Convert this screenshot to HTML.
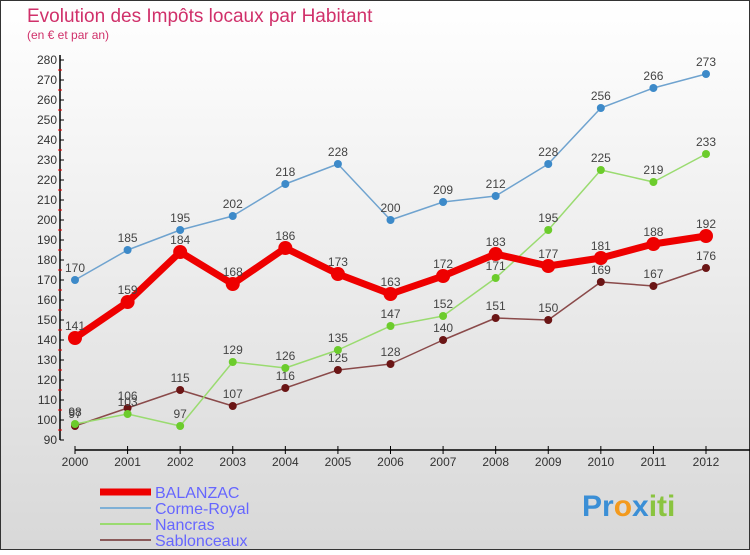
<!DOCTYPE html>
<html><head><meta charset="utf-8"><style>
body{margin:0;width:750px;height:550px;overflow:hidden;font-family:"Liberation Sans",sans-serif}
svg text{font-family:"Liberation Sans",sans-serif}
</style></head><body>
<svg id="chart" width="750" height="550">
<defs><linearGradient id="bg" x1="0" y1="0" x2="0" y2="1"><stop offset="0" stop-color="#ffffff"/><stop offset="1" stop-color="#d8d8d8"/></linearGradient></defs>
<rect x="0.5" y="0.5" width="749" height="549" fill="url(#bg)" stroke="#333"/>
<text x="27" y="22" font-size="19" fill="#d0306a">Evolution des Impôts locaux par Habitant</text>
<text x="27" y="39" font-size="12" fill="#d0306a">(en € et par an)</text>
<g id="axes"></g><g id="series"></g><g id="legend"></g>
<text x="582" y="516" font-size="30" font-weight="bold" fill="#3b8fd6">Pr<tspan fill="#f39a1e">o</tspan><tspan fill="#3b8fd6">x</tspan><tspan fill="#8ac43f">iti</tspan></text>
</svg>
<script>
const years=[2000,2001,2002,2003,2004,2005,2006,2007,2008,2009,2010,2011,2012];
const balanzac=[141,159,184,168,186,173,163,172,183,177,181,188,192];
const corme=[170,185,195,202,218,228,200,209,212,228,256,266,273];
const nancras=[98,103,97,129,126,135,147,152,171,195,225,219,233];
const sablon=[97,106,115,107,116,125,128,140,151,150,169,167,176];
const yTicks=[90,100,110,120,130,140,150,160,170,180,190,200,210,220,230,240,250,260,270,280];
const NS='http://www.w3.org/2000/svg';
const xS=i=>75+i*(706-75)/12;
const yS=v=>440-(v-90)*2;
function mk(t,a,p){const e=document.createElementNS(NS,t);for(const k in a)e.setAttribute(k,a[k]);p.appendChild(e);return e;}
const ax=document.getElementById('axes');
const yl=mk('line',{x1:60,y1:55,x2:60,y2:440,stroke:'#000','stroke-width':1.5},ax);


yTicks.forEach((v,k)=>{
 mk('line',{x1:60,y1:yS(v),x2:64,y2:yS(v),stroke:'#000'},ax);
 if(k<yTicks.length-1) mk('line',{x1:58,y1:yS(v)-10,x2:62,y2:yS(v)-10,stroke:'#e00'},ax);
 const t=mk('text',{x:57,y:yS(v)+4,'text-anchor':'end','font-size':12,fill:'#333'},ax);t.textContent=v;
 
 
});
const xl=mk('line',{x1:75,y1:450,x2:750,y2:450,stroke:'#000','stroke-width':1.5},ax);


years.forEach((y,i)=>{
 mk('line',{x1:xS(i),y1:446,x2:xS(i),y2:454,stroke:'#000'},ax);
 const t=mk('text',{x:xS(i),y:466,'text-anchor':'middle','font-size':12,fill:'#333'},ax);t.textContent=y;
 
 
});
const sg=document.getElementById('series');
function draw(data,name,color,dot,w,r){
 const g=mk('g',{},sg);
 
 
 mk('polyline',{points:data.map((v,i)=>xS(i)+','+yS(v)).join(' '),fill:'none',stroke:color,'stroke-width':w,'stroke-linejoin':'round'},g);
 data.forEach((v,i)=>{
  const c=mk('circle',{cx:xS(i),cy:yS(v),r:r,fill:dot},g);
  
  
  const t=mk('text',{x:xS(i),y:yS(v)-8,'text-anchor':'middle','font-size':12,fill:'#444'},g);t.textContent=v;
  
  
 });
}
draw(sablon,'sablonceaux','#8a4a4a','#6b1515',1.5,4);
draw(nancras,'nancras','#9adb70','#6ccc2c',1.5,4);
draw(corme,'corme-royal','#6fa3cf','#3d8ac9',1.5,4);
draw(balanzac,'balanzac','#ee0000','#ee0000',7,7);
const lg=document.getElementById('legend');
[['BALANZAC','#ee0000',7],['Corme-Royal','#7fb0d6',2],['Nancras','#9adb70',2],['Sablonceaux','#8a5a5a',2]].forEach((d,i)=>{
 const y=492+i*16;
 const e=mk('g',{},lg);
 
 
 mk('line',{x1:100,y1:y,x2:151,y2:y,stroke:d[1],'stroke-width':d[2]},e);
 const t=mk('text',{x:155,y:y+6,'font-size':16,fill:'#6666ff'},e);t.textContent=d[0];
});
</script>
</body></html>
